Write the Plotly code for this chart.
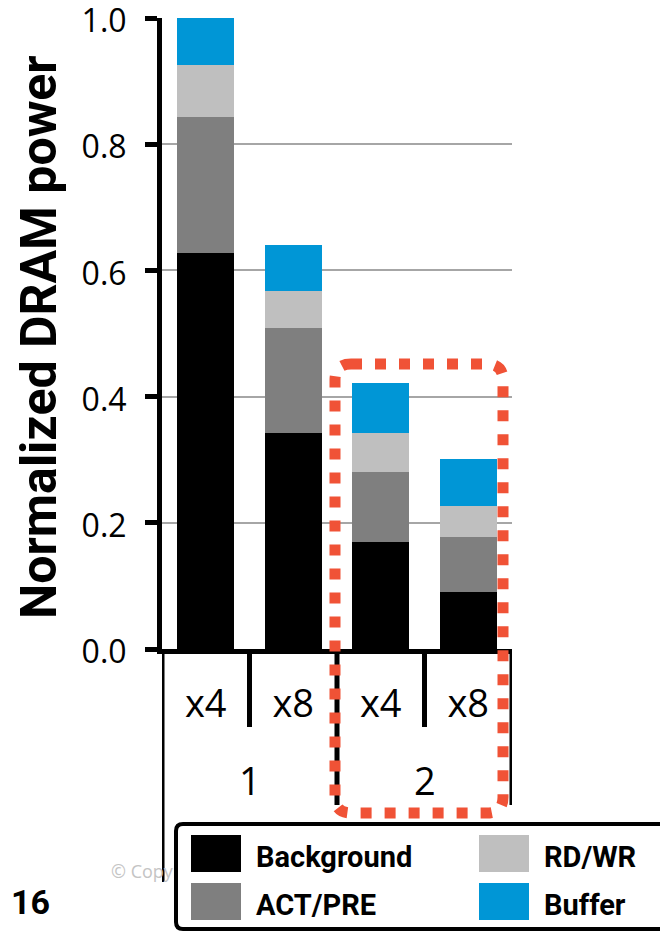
import plotly.graph_objects as go

# ---------------- data ----------------
groups = ['1', '1', '2', '2']
widths = ['x4', 'x8', 'x4', 'x8']
series_names = ['Background', 'ACT/PRE', 'RD/WR', 'Buffer']
background = [0.628, 0.343, 0.170, 0.091]
act_pre = [0.215, 0.165, 0.110, 0.086]
rd_wr = [0.083, 0.060, 0.063, 0.049]
buffer = [0.074, 0.072, 0.078, 0.075]
series_values = [background, act_pre, rd_wr, buffer]
colors = ['#000000', '#7f7f7f', '#bfbfbf', '#0096d6']
y_ticks = [0.0, 0.2, 0.4, 0.6, 0.8, 1.0]
y_title = 'Normalized DRAM power'
page_number = '16'
copyright_text = '© Copyright'

# ---------------- layout geometry (page pixels) ----------------
OFF = 8                      # default body margin of the html page
PAGE_W, PAGE_H = 668, 932
W, H = PAGE_W - OFF, PAGE_H - OFF
L, R, T, B = 162, 512, 18, 649   # plot area in page pixels
PW, PH = R - L, B - T


def px2x(px):
    return (px - L) / PW


def px2y(py):
    return (B - py) / PH


FONT = 'Open Sans'
BOLD = 'Roboto'

pos = list(range(len(widths)))

fig = go.Figure()
for name, vals, col in zip(series_names, series_values, colors):
    fig.add_trace(go.Bar(
        x=pos, y=vals, name=name,
        marker=dict(color=col, line=dict(width=0)),
        showlegend=False,
    ))

shapes = []
annotations = []

# category boundaries / dividers
n = len(widths)
for i in range(n + 1):
    xb = i - 0.5
    if i == 0:
        ybot = px2y(882)
    elif i < n and groups[i] == groups[i - 1]:
        ybot = px2y(727)
    else:
        ybot = px2y(805)
    shapes.append(dict(type='line', xref='x', yref='paper', x0=xb, x1=xb,
                       y0=0, y1=ybot, line=dict(color='black', width=5)))

# group labels
for g in dict.fromkeys(groups):
    idx = [p for p, gg in zip(pos, groups) if gg == g]
    annotations.append(dict(text=g, xref='x', yref='paper', x=sum(idx) / len(idx),
                            y=px2y(780), xanchor='center', yanchor='middle', showarrow=False,
                            font=dict(family=FONT, size=38, color='black')))

# red dotted rounded highlight around group 2
x0, x1 = px2x(335), px2x(503)
y0, y1 = px2y(813), px2y(364)
rx, ry = 16 / PW, 16 / PH
path = (f'M{x0 + rx},{y1} L{x1 - rx},{y1} Q{x1},{y1} {x1},{y1 - ry} '
        f'L{x1},{y0 + ry} Q{x1},{y0} {x1 - rx},{y0} L{x0 + rx},{y0} '
        f'Q{x0},{y0} {x0},{y0 + ry} L{x0},{y1 - ry} Q{x0},{y1} {x0 + rx},{y1} Z')
shapes.append(dict(type='path', xref='paper', yref='paper', path=path,
                   line=dict(color='#f05236', width=11, dash='11px,13px'),
                   fillcolor='rgba(0,0,0,0)', layer='above'))

# copyright text (partly hidden under legend box)
shapes.append(dict(type='rect', xref='paper', yref='paper',
                   x0=px2x(105), x1=px2x(330), y0=px2y(884), y1=px2y(860),
                   line=dict(width=0), fillcolor='rgba(0,0,0,0)',
                   label=dict(text=copyright_text, textposition='middle left',
                              font=dict(family=FONT, size=18, color='#c4c4c4'))))

# legend box
lx0, lx1 = px2x(176), px2x(690)
ly0, ly1 = px2y(929), px2y(824)
lrx, lry = 7 / PW, 7 / PH
lpath = (f'M{lx0 + lrx},{ly1} L{lx1 - lrx},{ly1} Q{lx1},{ly1} {lx1},{ly1 - lry} '
         f'L{lx1},{ly0 + lry} Q{lx1},{ly0} {lx1 - lrx},{ly0} L{lx0 + lrx},{ly0} '
         f'Q{lx0},{ly0} {lx0},{ly0 + lry} L{lx0},{ly1 - lry} Q{lx0},{ly1} {lx0 + lrx},{ly1} Z')
shapes.append(dict(type='path', xref='paper', yref='paper', path=lpath,
                   line=dict(color='black', width=4), fillcolor='white', layer='above'))

for i, (name, col) in enumerate(zip(series_names, colors)):
    c, r = i // 2, i % 2
    sx = 191 + c * 288
    sy = 835 + r * 48
    shapes.append(dict(type='rect', xref='paper', yref='paper',
                       x0=px2x(sx), x1=px2x(sx + 50), y0=px2y(sy + 37), y1=px2y(sy),
                       line=dict(width=0), fillcolor=col, layer='above'))
    annotations.append(dict(text=f'<b>{name}</b>', xref='paper', yref='paper',
                            x=px2x(sx + 63), y=px2y(sy + 22), xanchor='left', yanchor='middle',
                            showarrow=False, font=dict(family=BOLD, size=29, color='black')))

# y-axis title
annotations.append(dict(text=f'<b>{y_title}</b>', xref='paper', yref='paper',
                        x=px2x(39), y=px2y(337), xanchor='center', yanchor='middle',
                        textangle=-90, showarrow=False,
                        font=dict(family=BOLD, size=50, color='black')))
# page number
annotations.append(dict(text=f'<b>{page_number}</b>', xref='paper', yref='paper',
                        x=px2x(9), y=px2y(902), xanchor='left', yanchor='middle',
                        showarrow=False, font=dict(family=BOLD, size=34, color='black')))

fig.update_layout(
    width=W, height=H,
    margin=dict(l=L - OFF, r=W - (R - OFF), t=T - OFF, b=H - (B - OFF), pad=0, autoexpand=False),
    paper_bgcolor='white', plot_bgcolor='white',
    barmode='stack', bargap=0.35,
    shapes=shapes, annotations=annotations,
    xaxis=dict(range=[-0.5, n - 0.5], tickvals=pos, ticktext=widths,
               showline=True, linecolor='black', linewidth=5,
               ticks='outside', ticklen=17, tickcolor='rgba(0,0,0,0)',
               showgrid=False, zeroline=False, ticklabeloverflow='allow',
               tickfont=dict(family=FONT, size=38, color='black')),
    yaxis=dict(range=[0, 1], tickvals=y_ticks, tickformat='.1f',
               ticks='outside', ticklen=12, tickwidth=5, tickcolor='black',
               showline=True, linecolor='black', linewidth=5,
               showgrid=True, gridcolor='#a6a6a6', gridwidth=2, zeroline=False,
               ticklabelstandoff=12, ticklabeloverflow='allow', ticklabelshift=3,
               tickfont=dict(family=FONT, size=32, color='black')),
)

fig.write_html('out.html')
